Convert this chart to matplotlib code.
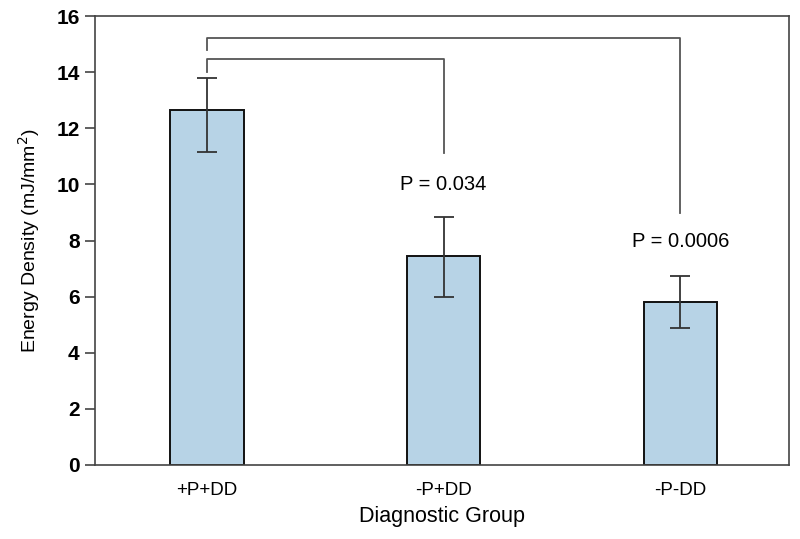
import numpy as np
import matplotlib
matplotlib.use('Agg')
import matplotlib.pyplot as plt

plt.rcParams['font.family'] = ['Liberation Sans', 'DejaVu Sans']

groups = ['+P+DD', '-P+DD', '-P-DD']
means = [12.65, 7.45, 5.81]
err_low = [1.50, 1.46, 0.93]
err_high = [1.13, 1.39, 0.93]

# comparisons: (from, to, bracket level, left drop, right drop, label, label y)
comparisons = [
    (0, 1, 14.47, 14.0, 11.12, 'P = 0.034', 10.0),
    (0, 2, 15.22, 14.79, 8.98, 'P = 0.0006', 7.95),
]

fig = plt.figure(figsize=(8, 5.39), dpi=100)
ax = fig.add_axes([0.11875, 0.1373, 0.8675, 0.833])

x = np.arange(len(groups))
ax.bar(x, means, width=0.31, color='#b7d3e6', edgecolor='#111111', linewidth=1.4, zorder=2)
ax.errorbar(x, means, yerr=[err_low, err_high], fmt='none', ecolor='#333333',
            elinewidth=1.3, capsize=7, capthick=1.3, zorder=3)

for a, b, level, ldrop, rdrop, label, ly in comparisons:
    ax.plot([x[a], x[a], x[b], x[b]], [ldrop, level, level, rdrop],
            color='#555555', linewidth=1.3, zorder=1)
    ax.text(x[b], ly, label, ha='center', va='center', fontsize=14.5)

ax.set_xlim(-0.474, 2.46)
ax.set_ylim(0, 16)
ax.set_yticks(range(0, 17, 2))
ax.set_xticks(x)
ax.set_xticklabels(groups, fontsize=13.5)
ax.tick_params(axis='x', length=0, pad=12)
ax.tick_params(axis='y', length=7, width=1.2, labelsize=15, color='#444444', pad=4)
for lbl in ax.get_yticklabels():
    lbl.set_fontweight('bold')
for s in ax.spines.values():
    s.set_color('#444444')
    s.set_linewidth(1.2)

ax.set_xlabel('Diagnostic Group', fontsize=15.5, labelpad=5)
ax.set_ylabel('Energy Density (mJ/mm$^2$)', fontsize=14, labelpad=10)

fig.savefig('out.png', dpi=100)
